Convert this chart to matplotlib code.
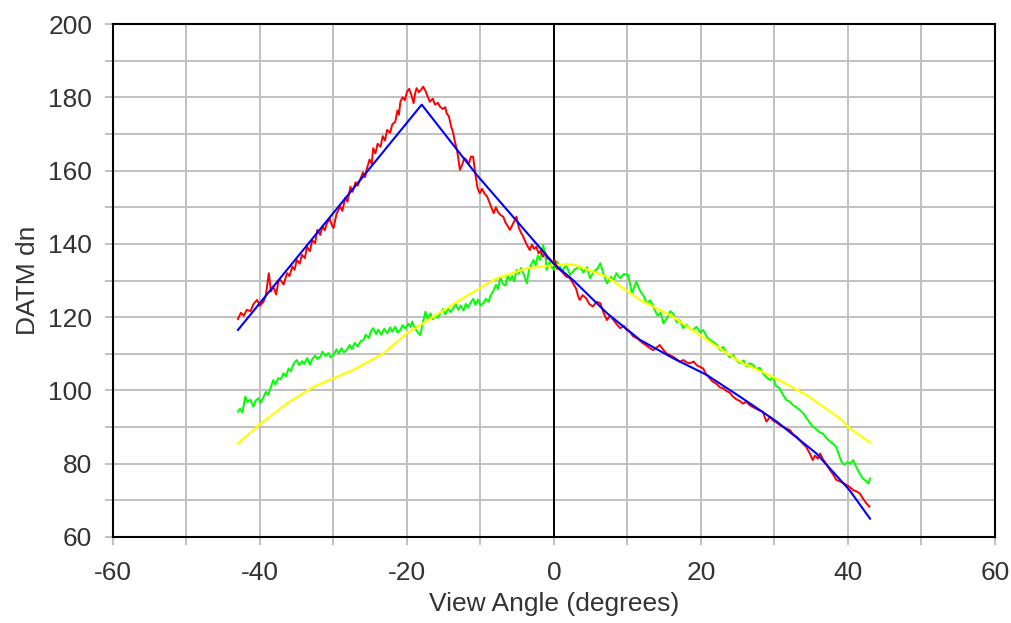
import numpy as np
import matplotlib
matplotlib.use("Agg")
import matplotlib.pyplot as plt

plt.rcParams['font.family'] = ['Liberation Sans', 'DejaVu Sans']
plt.rcParams['axes.unicode_minus'] = False

# blue fitted line
blue_x = [-43.0, -18.0, -10.5, 0.0, 2.6, 7.2, 11.7, 16.2, 20.8, 25.3, 30.3, 35.7, 40.2, 43.0]
blue_y = [116.5, 178.0, 158.8, 134.5, 130.1, 121.1, 113.8, 108.8, 104.2, 98.3, 91.5, 82.8, 72.8, 65.0]

# yellow model curve
yellow_x = [-43.0, -40.0, -36.3, -32.7, -27.3, -23.2, -20.0, -16.4, -12.8, -7.8, -3.7, 0.0,
            2.6, 7.2, 11.7, 16.2, 20.8, 25.3, 29.8, 34.3, 38.9, 40.2, 43.0]
yellow_y = [85.5, 90.8, 96.5, 101.0, 105.6, 110.1, 115.6, 120.1, 124.7, 130.6, 133.3, 134.2,
            134.4, 131.0, 124.7, 120.1, 113.8, 107.8, 103.7, 98.8, 92.4, 89.7, 85.8]

# red measured
red_x = [-43.0, -42.6, -42.2, -41.8, -41.3, -40.9, -40.4, -40.0, -39.5, -39.2, -38.8, -38.5, -38.2,
         -37.8, -37.5, -37.2, -36.8, -36.3, -36.0, -35.6, -35.3, -35.0, -34.6, -34.3, -33.9, -33.6,
         -33.2, -32.9, -32.5, -32.2, -31.8, -31.5, -31.2, -30.9, -30.5, -30.2, -30.0, -29.6, -29.1,
         -28.8, -28.4, -28.1, -27.7, -27.4, -27.0, -26.7, -26.4, -26.0, -25.7, -25.5, -25.1, -24.8,
         -24.6, -24.3, -24.0, -23.6, -23.3, -23.0, -22.7, -22.3, -22.0, -21.6, -21.3, -21.1, -20.9,
         -20.6, -20.3, -20.0, -19.7, -19.4, -19.1, -18.9, -18.7, -18.4, -18.1, -17.8, -17.5, -17.2,
         -16.9, -16.5, -16.2, -15.8, -15.5, -15.1, -14.8, -14.6, -14.3, -14.0, -13.7, -13.5, -13.2,
         -13.0, -12.8, -12.5, -12.2, -11.9, -11.6, -11.3, -11.0, -10.7, -10.4, -10.1, -9.8, -9.4,
         -9.1, -8.8, -8.5, -8.2, -7.9, -7.6, -7.3, -6.9, -6.6, -6.3, -6.0, -5.7, -5.4, -5.1, -4.8,
         -4.5, -4.2, -3.9, -3.6, -3.3, -3.0, -2.7, -2.4, -2.1, -1.8, -1.5, -1.2, -0.9, -0.5, -0.2,
         0.1, 0.4, 0.8, 1.2, 1.7, 2.1, 2.6, 3.0, 3.3, 3.5, 3.9, 4.4, 4.8, 5.3, 5.8, 6.3, 6.7, 7.2,
         7.6, 8.1, 8.6, 9.0, 9.5, 9.9, 10.4, 10.8, 11.4, 12.1, 12.6, 13.0, 13.5, 14.0, 14.4, 14.9,
         15.3, 15.8, 16.2, 16.7, 17.1, 17.6, 18.1, 18.5, 19.0, 19.4, 19.9, 20.3, 20.7, 21.2, 21.6,
         22.1, 22.6, 23.0, 23.5, 23.9, 24.4, 24.8, 25.3, 25.7, 26.2, 26.6, 27.1, 27.5, 28.0, 28.4,
         28.9, 29.4, 29.8, 30.3, 30.7, 31.2, 31.6, 32.1, 32.5, 33.0, 33.4, 33.9, 34.3, 34.8, 35.2,
         35.5, 35.9, 36.2, 36.6, 37.1, 37.5, 38.0, 38.4, 38.9, 39.3, 39.8, 40.2, 40.7, 41.1, 41.6,
         42.0, 42.5, 42.9]
red_y = [119.5, 121.2, 120.4, 122.0, 121.6, 123.5, 124.7, 123.1, 124.3, 126.0, 132.0, 127.0, 128.4,
         126.2, 129.8, 130.1, 128.9, 132.0, 131.2, 133.8, 132.9, 135.6, 134.6, 137.0, 136.1, 139.2,
         138.0, 141.0, 140.2, 143.8, 142.4, 144.9, 143.7, 145.6, 146.8, 145.0, 144.3, 148.1, 150.2,
         149.0, 152.6, 151.5, 155.6, 154.2, 156.8, 155.9, 157.4, 159.5, 158.2, 160.2, 163.0, 161.8,
         166.1, 164.7, 167.3, 166.5, 169.4, 168.2, 171.1, 170.3, 172.6, 173.3, 176.4, 175.2, 178.8,
         180.0, 179.2, 181.5, 182.3, 180.6, 178.4, 181.0, 182.5, 181.4, 182.0, 182.9, 181.8, 180.3,
         178.8, 179.6, 178.0, 178.5, 177.4, 176.8, 177.3, 175.6, 174.8, 172.1, 170.2, 168.0, 165.6,
         163.0, 160.2, 161.6, 163.4, 162.9, 161.8, 163.8, 163.8, 159.0, 155.2, 153.8, 155.0, 153.6,
         152.9, 151.4, 149.8, 148.4, 150.0, 148.6, 147.9, 147.4, 145.8, 144.9, 143.8, 145.0, 146.2,
         147.4, 144.5, 143.1, 142.0, 140.6, 139.4, 138.3, 139.8, 138.6, 139.2, 137.4, 138.1, 136.5,
         137.6, 136.0, 135.6, 134.9, 135.6, 133.3, 132.9, 132.1, 131.0, 130.8, 129.2, 127.8, 125.6,
         124.7, 126.0, 125.1, 123.6, 122.9, 124.2, 123.8, 121.4, 119.2, 120.4, 119.2, 117.9, 117.0,
         117.6, 116.5, 115.8, 114.7, 114.1, 112.9, 112.2, 111.6, 111.0, 111.8, 112.4, 111.0, 110.1,
         109.6, 109.2, 108.5, 107.8, 108.3, 107.6, 107.4, 107.9, 106.9, 106.4, 106.0, 104.4, 103.3,
         102.4, 101.8, 100.8, 100.6, 99.8, 99.4, 98.2, 97.6, 97.1, 96.4, 96.9, 96.0, 95.4, 95.0,
         94.5, 94.2, 91.5, 92.8, 91.8, 91.2, 90.6, 90.0, 89.6, 89.2, 88.1, 87.4, 86.5, 85.4, 84.6,
         82.8, 81.0, 82.2, 81.4, 82.8, 81.2, 79.7, 78.4, 77.0, 75.6, 75.2, 74.8, 74.2, 73.7, 72.8,
         72.5, 71.9, 70.6, 69.2, 68.3]

# green measured
green_x = [-43.0, -42.7, -42.4, -42.0, -41.7, -41.3, -40.9, -40.6, -40.2, -39.9, -39.5, -39.2,
           -38.9, -38.5, -38.2, -37.9, -37.5, -37.2, -36.8, -36.5, -36.1, -35.8, -35.4, -35.0,
           -34.7, -34.3, -34.0, -33.6, -33.2, -32.9, -32.5, -32.2, -31.8, -31.5, -31.1, -30.7,
           -30.4, -30.0, -29.6, -29.3, -28.9, -28.6, -28.2, -27.8, -27.5, -27.1, -26.7, -26.3,
           -25.9, -25.6, -25.2, -24.9, -24.6, -24.2, -23.9, -23.5, -23.1, -22.7, -22.3, -22.0,
           -21.6, -21.3, -20.9, -20.6, -20.2, -19.8, -19.5, -19.3, -19.0, -18.6, -18.2, -17.9,
           -17.5, -17.2, -16.8, -16.5, -16.1, -15.8, -15.5, -15.1, -14.8, -14.4, -14.1, -13.7,
           -13.4, -13.0, -12.7, -12.3, -12.0, -11.7, -11.4, -11.0, -10.7, -10.3, -10.0, -9.6,
           -9.3, -8.9, -8.6, -8.2, -7.9, -7.6, -7.3, -7.0, -6.6, -6.3, -6.0, -5.7, -5.4, -5.1,
           -4.8, -4.5, -4.1, -3.7, -3.4, -3.1, -2.8, -2.5, -2.2, -1.9, -1.5, -1.2, -1.0, -0.6,
           -0.3, 0.0, 0.4, 0.8, 1.2, 1.6, 2.2, 2.8, 3.5, 4.0, 4.5, 4.9, 5.4, 5.9, 6.3, 6.8, 7.2,
           7.7, 8.1, 8.5, 9.0, 9.5, 10.1, 10.6, 11.2, 11.7, 12.2, 12.6, 13.1, 13.7, 14.1, 14.5,
           14.9, 15.4, 15.8, 16.2, 16.7, 17.1, 17.6, 18.0, 18.5, 18.9, 19.4, 19.9, 20.3, 20.8,
           21.2, 21.7, 22.2, 22.6, 23.0, 23.5, 23.9, 24.4, 24.8, 25.3, 25.8, 26.2, 26.6, 27.1,
           27.5, 28.0, 28.4, 28.9, 29.4, 29.8, 30.2, 30.7, 31.1, 31.6, 32.1, 32.5, 33.0, 33.4,
           33.9, 34.3, 34.8, 35.2, 35.7, 36.1, 36.6, 37.1, 37.5, 38.0, 38.4, 38.8, 39.1, 39.5,
           39.9, 40.3, 40.7, 41.1, 41.5, 42.0, 42.4, 42.8, 43.0]
green_y = [94.2, 95.0, 94.0, 98.3, 96.8, 97.5, 95.6, 97.2, 97.9, 96.6, 98.3, 99.6,
           98.8, 101.0, 102.8, 101.6, 103.4, 103.0, 104.7, 103.8, 106.0, 105.2, 107.4, 108.3,
           106.9, 108.0, 107.2, 108.8, 107.0, 108.5, 109.5, 108.6, 109.2, 110.6, 109.4, 110.2,
           109.0, 109.7, 111.2, 110.1, 111.5, 110.4, 111.0, 112.4, 111.3, 113.0, 112.0, 113.5,
           113.8, 115.2, 114.3, 116.2, 117.0, 115.4, 116.6, 115.2, 116.8, 115.6, 117.2, 116.0,
           117.4, 115.8, 116.5, 117.8, 116.9, 118.2, 117.3, 118.8, 117.2, 116.0, 115.1, 118.0,
           121.5, 119.6, 121.0, 119.4, 120.6, 119.8, 121.0, 122.2, 120.8, 122.4, 121.4, 122.4,
           123.6, 122.0, 123.2, 121.8, 123.6, 122.6, 123.8, 125.0, 123.4, 124.8, 123.2, 123.8,
           125.0, 124.2, 126.0, 127.4, 128.8, 127.6, 131.0, 129.2, 128.6, 131.4, 130.1, 131.2,
           129.8, 132.9, 131.8, 133.4, 131.6, 129.2, 133.0, 134.4, 135.6, 134.2, 136.8, 135.6,
           139.7, 137.4, 132.9, 135.0, 133.6, 132.9, 135.2, 133.8, 132.6, 134.4, 131.5, 133.0,
           133.8, 132.2, 133.6, 130.6, 132.4, 133.2, 134.7, 131.4, 129.2, 131.0, 130.2, 132.0,
           130.6, 131.8, 131.5, 126.5, 129.7, 127.2, 125.8, 123.8, 124.6, 122.0, 120.4, 121.2,
           118.3, 119.8, 121.6, 121.0, 118.6, 119.2, 117.0, 118.0, 116.8, 116.5, 117.4, 115.8,
           116.5, 114.6, 113.8, 113.2, 112.4, 111.0, 111.9, 110.2, 109.0, 109.6, 108.3, 107.4,
           108.2, 106.6, 107.4, 107.0, 105.8, 106.2, 104.7, 103.6, 102.8, 103.7, 101.2, 100.6,
           99.0, 97.4, 96.9, 96.0, 95.4, 94.7, 93.8, 92.6, 91.2, 90.1, 89.4, 88.6, 88.2, 86.9,
           86.2, 85.4, 84.6, 82.2, 80.6, 79.7, 80.4, 80.0, 81.0, 79.2, 77.6, 76.0, 75.4, 74.6, 76.0]

x_ticks = [-60, -40, -20, 0, 20, 40, 60]
y_ticks = [60, 80, 100, 120, 140, 160, 180, 200]

fig = plt.figure(figsize=(10.12, 6.23), dpi=100)
ax = fig.add_axes([113 / 1012, 1 - 537 / 623, (995 - 113) / 1012, (537 - 24) / 623])

ax.plot(green_x, green_y, color='#00ff00', lw=1.4, zorder=3)
ax.plot(yellow_x, yellow_y, color='#ffff00', lw=1.6, zorder=3)
ax.plot(red_x, red_y, color='#ff0000', lw=1.4, zorder=4)
ax.plot(blue_x, blue_y, color='#0000ff', lw=1.5, zorder=5)
ax.axvline(0, color='black', lw=1.4, zorder=2)

ax.set_xlim(-60, 60)
ax.set_ylim(60, 200)
ax.set_xticks(x_ticks)
ax.set_yticks(y_ticks)
ax.set_xticks(np.arange(-50, 60, 20), minor=True)
ax.set_yticks(np.arange(70, 200, 20), minor=True)
ax.grid(True, which='both', color='#c0c0c0', lw=1.4, zorder=0)
ax.set_axisbelow(True)
ax.tick_params(which='both', direction='out', length=6, width=1.4, color='#c0c0c0',
               labelsize=19, labelcolor='#333333')
ax.tick_params(axis='x', pad=11)
ax.tick_params(axis='y', pad=9)
for s in ax.spines.values():
    s.set_color('black')
    s.set_linewidth(1.5)

ax.set_xlabel('View Angle (degrees)', fontsize=19, color='#333333', labelpad=5)
ax.set_ylabel('DATM dn', fontsize=19, color='#333333', labelpad=6)

fig.savefig('out.png', dpi=100)
